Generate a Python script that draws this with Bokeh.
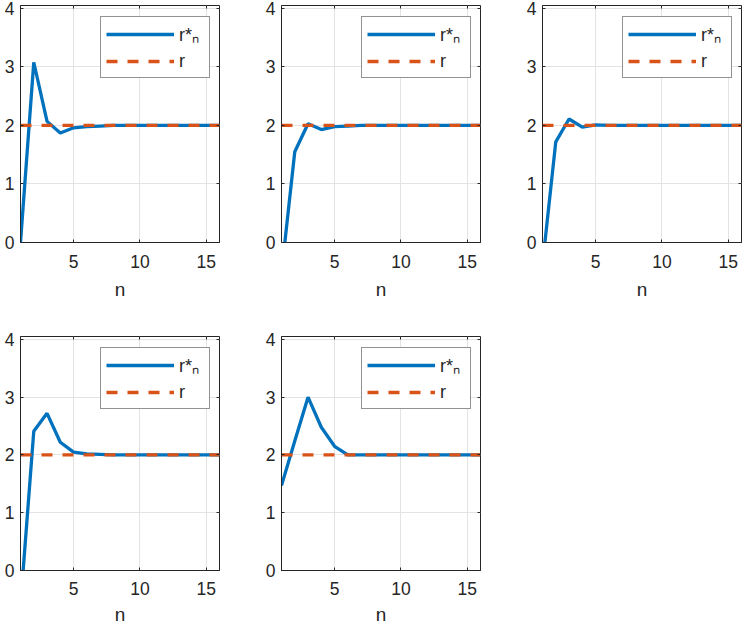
from bokeh.plotting import figure
from bokeh.models import Range1d, FixedTicker, LinearAxis, Legend, LegendItem
from bokeh.layouts import column, row
from bokeh.embed import file_html
from bokeh.resources import INLINE

# ---- data ----
n_values = [1, 2, 3, 4, 5, 6, 7, 8, 9, 10, 11, 12, 13, 14, 15, 16]
r_values = [2, 2, 2, 2, 2, 2, 2, 2, 2, 2, 2, 2, 2, 2, 2, 2]
rstar_1 = [0.0, 3.08, 2.07, 1.87, 1.96, 1.98, 1.99, 2.0, 2.0, 2.0, 2.0, 2.0, 2.0, 2.0, 2.0, 2.0]
rstar_2 = [-0.52, 1.55, 2.03, 1.93, 1.98, 1.99, 2.0, 2.0, 2.0, 2.0, 2.0, 2.0, 2.0, 2.0, 2.0, 2.0]
rstar_3 = [-0.38, 1.72, 2.11, 1.97, 2.01, 2.0, 2.0, 2.0, 2.0, 2.0, 2.0, 2.0, 2.0, 2.0, 2.0, 2.0]
rstar_4 = [-0.6, 2.41, 2.72, 2.22, 2.05, 2.02, 2.01, 2.0, 2.0, 2.0, 2.0, 2.0, 2.0, 2.0, 2.0, 2.0]
rstar_5 = [1.47, 2.24, 3.0, 2.48, 2.15, 2.0, 2.0, 2.0, 2.0, 2.0, 2.0, 2.0, 2.0, 2.0, 2.0, 2.0]
x_ticks = [5, 10, 15]
y_ticks = [0, 1, 2, 3, 4]
legend_labels = ["r*\u2099", "r"]
x_label = "n"

BLUE = "#0072BD"
ORANGE = "#D95319"
AX = "#262626"
GRID = "#e3e3e3"
FONT = "Liberation Sans"

FW = 199


def make_panel(ys, fh, left, right, top, bottom, tick_standoff, label_standoff):
    p = figure(frame_width=FW, frame_height=fh,
               x_range=Range1d(1, 16), y_range=Range1d(0, 4.05),
               output_backend="svg", toolbar_location=None,
               min_border_left=left, min_border_right=right,
               min_border_top=top, min_border_bottom=bottom,
               background_fill_color="white", border_fill_color="white",
               outline_line_color=AX, outline_line_width=1)
    p.xgrid.ticker = FixedTicker(ticks=x_ticks)
    p.ygrid.ticker = FixedTicker(ticks=y_ticks)
    p.xgrid.grid_line_color = GRID
    p.ygrid.grid_line_color = GRID

    for ax, tk in ((p.xaxis[0], x_ticks), (p.yaxis[0], y_ticks)):
        ax.ticker = FixedTicker(ticks=tk)
        ax.major_tick_in = 3
        ax.major_tick_out = 0
        ax.minor_tick_line_color = None
        ax.axis_line_color = AX
        ax.major_tick_line_color = AX
        ax.major_label_text_font = FONT
        ax.major_label_text_font_size = "17.5px"
        ax.major_label_text_color = AX
    p.xaxis[0].major_label_standoff = tick_standoff
    p.yaxis[0].major_label_standoff = 6
    p.xaxis[0].axis_label = x_label
    p.xaxis[0].axis_label_text_font = FONT
    p.xaxis[0].axis_label_text_font_size = "19px"
    p.xaxis[0].axis_label_text_font_style = "normal"
    p.xaxis[0].axis_label_text_color = AX
    p.xaxis[0].axis_label_standoff = label_standoff

    for tk, side in ((y_ticks, "right"), (x_ticks, "above")):
        extra = LinearAxis(ticker=FixedTicker(ticks=tk), major_label_text_font_size="1px",
                           major_label_text_color=None,
                           major_label_standoff=0, major_tick_in=3, major_tick_out=0,
                           minor_tick_line_color=None, axis_line_color=None,
                           major_tick_line_color=AX)
        p.add_layout(extra, side)

    l1 = p.line(n_values, ys, color=BLUE, line_width=3.3)
    l2 = p.line(n_values, r_values, color=ORANGE, line_width=3.3, line_dash="11 10")

    lx = FW - 11 - 108
    ly = fh - 14 - 59
    legend = Legend(items=[LegendItem(label=legend_labels[0], renderers=[l1]),
                           LegendItem(label=legend_labels[1], renderers=[l2])],
                    location=(lx, ly), orientation="vertical",
                    border_line_color=AX, border_line_width=1,
                    background_fill_color="white", background_fill_alpha=1.0,
                    label_text_font=FONT, label_text_font_size="18px",
                    label_text_color=AX,
                    glyph_width=68, glyph_height=22, label_height=22,
                    label_width=25, label_standoff=5,
                    padding=5, spacing=4, margin=0)
    p.add_layout(legend)
    return p


f1 = make_panel(rstar_1, 237, 20, 42, 5, 89, 12, 8)
f2 = make_panel(rstar_2, 237, 20, 42, 5, 89, 12, 8)
f3 = make_panel(rstar_3, 237, 20, 4, 5, 89, 12, 8)
f4 = make_panel(rstar_4, 234, 20, 42, 5, 58, 11, 6)
f5 = make_panel(rstar_5, 234, 20, 42, 5, 58, 11, 6)

layout = column(row(f1, f2, f3), row(f4, f5))
open("out.html", "w").write(file_html(layout, INLINE))
